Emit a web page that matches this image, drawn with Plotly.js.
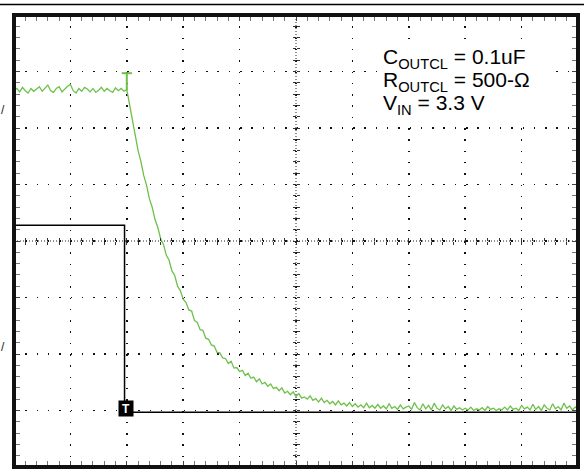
<!DOCTYPE html>
<html>
<head>
<meta charset="utf-8">
<script src="https://cdn.plot.ly/plotly-3.0.1.min.js"></script>
<style>html,body{margin:0;padding:0;background:#fff;}#chart{width:584px;height:470px;}</style>
</head>
<body>
<div id="chart"></div>
<script>
// Oscilloscope capture, units = divisions (10 x 8 screen, centre = 0)
// Green channel: output discharge, sampled every 0.05 div
const greenStart = 0;
const greenStep = 0.05;
const greenFlat = [2.67,2.70,2.64,2.72,2.66,2.62,2.70,2.65,2.69,2.73,2.65,2.70,2.76,2.66,2.63,2.70,2.73,2.64,2.69,2.74,2.77,2.66,2.62,2.70,2.65,2.72,2.69,2.64,2.70,2.63,2.67,2.72,2.65,2.70,2.66,2.63,2.71,2.66,2.70,2.65];
const greenDecay = [2.68,2.42,2.11,1.88,1.60,1.41,1.16,0.99,0.75,0.60,
  0.38,0.24,0.04,-0.06,-0.25,-0.34,-0.53,-0.61,-0.80,-0.88,
  -1.03,-1.09,-1.22,-1.24,-1.41,-1.44,-1.57,-1.58,-1.72,-1.74,
  -1.84,-1.86,-1.97,-1.98,-2.07,-2.08,-2.17,-2.13,-2.25,-2.24,
  -2.31,-2.29,-2.38,-2.34,-2.43,-2.41,-2.49,-2.44,-2.53,-2.50,
  -2.57,-2.53,-2.61,-2.59,-2.65,-2.60,-2.69,-2.66,-2.72,-2.67,
  -2.75,-2.70,-2.78,-2.76,-2.80,-2.74,-2.82,-2.79,-2.85,-2.78,
  -2.86,-2.82,-2.88,-2.84,-2.90,-2.83,-2.90,-2.87,-2.92,-2.86,
  -2.93,-2.88,-2.94,-2.90,-2.95,-2.87,-2.95,-2.91,-2.96,-2.89,
  -2.96,-2.92,-2.97,-2.88,-2.96,-2.93,-2.98,-2.90,-2.97,-2.94];
const greenTail = [-2.92,-2.98,-2.86,-2.95,-2.99,-2.88,-2.97,-2.91,-2.99,-2.87,
  -2.96,-2.99,-2.90,-2.97,-2.93,-3.00,-2.92,-2.98,-2.95,-2.99,
  -2.96,-2.99,-2.94,-3.00,-2.97,-2.99,-2.95,-3.00,-2.93,-2.98,
  -2.96,-3.00,-2.97,-2.99,-2.94,-2.99,-2.92,-2.98,-2.96,-3.00,
  -2.91,-2.97,-2.94,-2.99,-2.89,-2.98,-2.93,-3.00,-2.90,-2.96,
  -2.99,-2.88,-2.97,-2.93,-2.99,-2.87,-2.96,-2.92,-2.99,-2.94,
  -2.97];
// Green trigger-level marker
const markerX = [2.0, 2.0, 1.91, 2.09];
const markerY = [2.67, 2.97, 2.97, 2.97];
// Black channel: VIN step
const vinX = [0, 1.96, 1.96, 10];
const vinY = [0.28, 0.28, -3.03, -3.03];
// Trigger position
const trigX = 1.98, trigY = -2.96;
const labels = ["C<sub>OUTCL</sub> = 0.1uF", "R<sub>OUTCL</sub> = 500-Ω", "V<sub>IN</sub> = 3.3 V"];

const greenY = greenFlat.concat(greenDecay, greenTail);
const GREEN = '#6dc04a';

const traces = [
  {type:'scatter', mode:'lines', x:vinX, y:vinY, line:{color:'#000', width:1.5}, hoverinfo:'skip'},
  {type:'scatter', mode:'lines', x0:greenStart, dx:greenStep, y:greenY, line:{color:GREEN, width:1.3}, hoverinfo:'skip'},
  {type:'scatter', mode:'lines', x:markerX.slice(0,2), y:markerY.slice(0,2), line:{color:GREEN, width:2}, hoverinfo:'skip'},
  {type:'scatter', mode:'lines', x:markerX.slice(2), y:markerY.slice(2), line:{color:GREEN, width:2}, hoverinfo:'skip'},
  // empty traces so the centre-line tick axes get drawn
  {type:'scatter', mode:'lines', x:[], y:[], xaxis:'x2', yaxis:'y', hoverinfo:'skip'},
  {type:'scatter', mode:'lines', x:[], y:[], xaxis:'x3', yaxis:'y', hoverinfo:'skip'},
  {type:'scatter', mode:'lines', x:[], y:[], xaxis:'x', yaxis:'y2', hoverinfo:'skip'},
  {type:'scatter', mode:'lines', x:[], y:[], xaxis:'x', yaxis:'y3', hoverinfo:'skip'}
];

const dotGrid = '1.5px,9.8px';
const baseAxis = {showticklabels:false, zeroline:false, fixedrange:true, showline:false};
const FONT = 'Liberation Sans, Arial, Helvetica, sans-serif';
const labelY = [0.9027, 0.852, 0.801];
const layout = {
  width:584, height:470,
  margin:{l:14, r:6, t:15, b:3, pad:0},
  paper_bgcolor:'#fff', plot_bgcolor:'#fff',
  showlegend:false,
  xaxis: Object.assign({}, baseAxis, {range:[0,10], tick0:0, dtick:1, showgrid:true, gridcolor:'#111', gridwidth:1.5, griddash:dotGrid,
    ticks:'inside', ticklen:6, tickcolor:'#444', mirror:'allticks',
    minor:{dtick:0.2, tick0:0, ticks:'inside', ticklen:5, tickcolor:'#777', showgrid:false}}),
  yaxis: Object.assign({}, baseAxis, {range:[-4,4], tick0:0, dtick:1, showgrid:true, gridcolor:'#111', gridwidth:1.5, griddash:dotGrid,
    ticks:'inside', ticklen:6, tickcolor:'#444', mirror:'allticks',
    minor:{dtick:0.2, tick0:0, ticks:'inside', ticklen:5, tickcolor:'#777', showgrid:false}}),
  xaxis2: Object.assign({}, baseAxis, {overlaying:'x', anchor:'free', position:0.5, range:[0,10], tick0:0, dtick:0.2, showgrid:false, ticks:'outside', ticklen:3, tickcolor:'#333'}),
  xaxis3: Object.assign({}, baseAxis, {overlaying:'x', anchor:'free', position:0.5, range:[0,10], tick0:0, dtick:0.2, showgrid:false, ticks:'inside', ticklen:3, tickcolor:'#333'}),
  yaxis2: Object.assign({}, baseAxis, {overlaying:'y', anchor:'free', position:0.5, range:[-4,4], tick0:0, dtick:0.2, showgrid:false, ticks:'outside', ticklen:3, tickcolor:'#333'}),
  yaxis3: Object.assign({}, baseAxis, {overlaying:'y', anchor:'free', position:0.5, range:[-4,4], tick0:0, dtick:0.2, showgrid:false, ticks:'inside', ticklen:3, tickcolor:'#333'}),
  shapes:[
    {type:'line', xref:'x', yref:'paper', x0:5, x1:5, y0:0, y1:1, line:{color:'#222', width:1, dash:'1px,2px'}, layer:'below'},
    {type:'line', xref:'paper', yref:'y', x0:0, x1:1, y0:0, y1:0, line:{color:'#222', width:1, dash:'1px,2px'}, layer:'below'},
    {type:'rect', xref:'paper', yref:'paper', x0:0.649, x1:0.954, y0:0.768, y1:0.936, fillcolor:'#fff', line:{width:0}, layer:'above'},
    {type:'rect', xref:'paper', yref:'paper', x0:0, x1:1, y0:0, y1:1, line:{color:'#111', width:4}, layer:'above'},
    {type:'line', xref:'paper', yref:'paper', x0:-0.05, x1:1.05, y0:1.0232, y1:1.0232, line:{color:'#000', width:1.3}}
  ],
  annotations:[
    {xref:'x', yref:'y', x:trigX, y:trigY, text:'<b>T</b>', showarrow:false, bgcolor:'#000', font:{family:FONT, size:12, color:'#fff'}, borderpad:1, width:12, height:13},
    {xref:'paper', yref:'paper', x:0.652, y:labelY[0], xanchor:'left', yanchor:'middle', text:labels[0], showarrow:false, borderpad:0, height:21, font:{family:FONT, size:21, color:'#000'}},
    {xref:'paper', yref:'paper', x:0.652, y:labelY[1], xanchor:'left', yanchor:'middle', text:labels[1], showarrow:false, borderpad:0, height:21, font:{family:FONT, size:21, color:'#000'}},
    {xref:'paper', yref:'paper', x:0.652, y:labelY[2], xanchor:'left', yanchor:'middle', text:labels[2], showarrow:false, borderpad:0, height:21, font:{family:FONT, size:21, color:'#000'}},
    {xref:'paper', yref:'paper', x:-0.0248, y:0.79, xanchor:'left', yanchor:'middle', text:'/', showarrow:false, borderpad:0, font:{family:FONT, size:12, color:'#222'}},
    {xref:'paper', yref:'paper', x:-0.0248, y:0.2655, xanchor:'left', yanchor:'middle', text:'/', showarrow:false, borderpad:0, font:{family:FONT, size:12, color:'#222'}}
  ]
};
Plotly.newPlot('chart', traces, layout, {displayModeBar:false, staticPlot:true});
</script>
</body>
</html>
